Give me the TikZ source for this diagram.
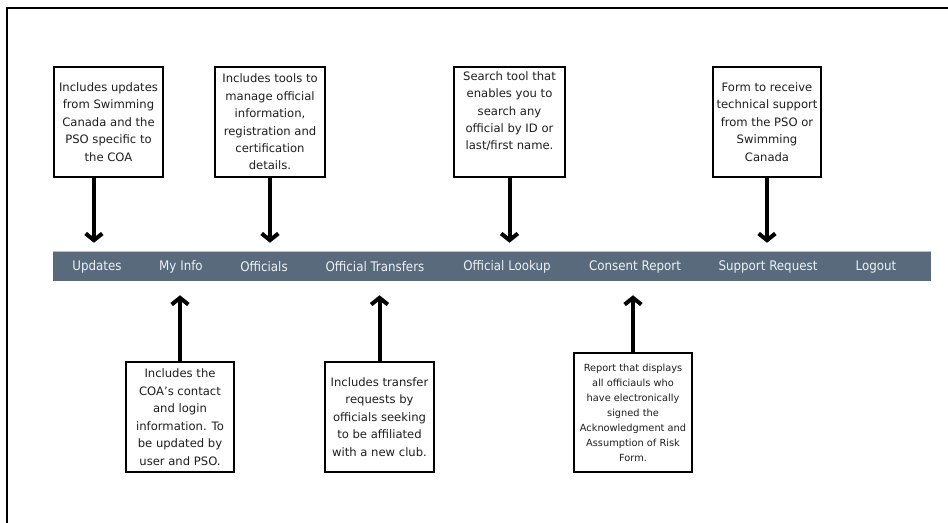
\documentclass[tikz,border=0pt]{standalone}
\usepackage{fontspec}
\setmainfont{DejaVu Sans}
\newfontfamily\barfont{DejaVu Sans Condensed}
\usetikzlibrary{arrows.meta}
\definecolor{barcol}{RGB}{90,106,125}
\definecolor{bartext}{RGB}{236,241,247}
\definecolor{boxtext}{RGB}{30,30,30}
\tikzset{
  infobox/.style={draw=black, line width=1.5pt, fill=white, align=center, inner sep=0pt,
    text=boxtext, font=\fontsize{8.7}{13.1}\selectfont, minimum height=82.5pt},
  smallbox/.style={infobox, font=\fontsize{7.35}{11.25}\selectfont},
  barlabel/.style={text=bartext, font=\barfont\fontsize{9.9}{12}\selectfont, inner sep=0pt},
  arr/.style={line width=3pt, -{Straight Barb[length=5pt,width=12.5pt]}},
}
\begin{document}
\begin{tikzpicture}[x=0.75pt,y=-0.75pt]
\useasboundingbox (0,0) rectangle (948,522);
\fill[white] (0,0) rectangle (948,522);
% frame
\draw[line width=1.5pt] (7,540) |- (970,8);
% bar
\node[fill=barcol, minimum width=658.5pt, minimum height=21.75pt, inner sep=0pt] (bar) at (492,266.5) {};
\draw[black!25, line width=0.6pt] (bar.north west) -- (bar.north east);
\node[barlabel] (lupd) at (97,267) {Updates};
\node[barlabel] (linfo) at (181,267) {My Info};
\node[barlabel] (loff) at (264,267) {Officials};
\node[barlabel] (ltrans) at (375,267) {Official Transfers};
\node[barlabel] (llook) at (507,267) {Official Lookup};
\node[barlabel] (lcons) at (635,267) {Consent Report};
\node[barlabel] (lsupp) at (768,267) {Support Request};
\node[barlabel] (llog) at (876,267) {Logout};
% top boxes
\node[infobox, minimum width=81.75pt] (ub) at (108.5,122) {Includes updates\\from Swimming\\Canada and the\\PSO specific to\\the COA};
\node[infobox, minimum width=82.5pt] (ob) at (270,122) {Includes tools to\\manage official\\information,\\registration and\\certification\\details.};
\node[infobox, minimum width=83.25pt] (lb) at (509.5,122) {Search tool that\\enables you to\\search any\\official by ID or\\last/first name.\\\strut};
\node[infobox, minimum width=81pt] (sb) at (767,122) {Form to receive\\technical support\\from the PSO or\\Swimming\\Canada};
% bottom boxes
\node[infobox, minimum width=81pt] (mb) at (180,417) {Includes the\\COA\symbol{39}s contact\\and login\\information. To\\be updated by\\user and PSO.};
\node[infobox, minimum width=81.75pt] (tb) at (379.5,417) {Includes transfer\\requests by\\officials seeking\\to be affiliated\\with a new club.};
\node[smallbox, minimum width=88.5pt, minimum height=89.25pt] (cb) at (633,412.5) {Report that displays\\all officiauls who\\have electronically\\signed the\\Acknowledgment and\\Assumption of Risk\\Form.};
% arrows down
\coordinate (ua) at ([xshift=-10.9pt]ub.south);
\draw[arr, shorten >=6.75pt] (ua) -- (ua |- bar.north);
\draw[arr, shorten >=6.75pt] (ob.south) -- (ob.south |- bar.north);
\draw[arr, shorten >=6.75pt] (lb.south) -- (lb.south |- bar.north);
\draw[arr, shorten >=6.75pt] (sb.south) -- (sb.south |- bar.north);
% arrows up
\draw[arr, shorten >=10.5pt] (mb.north) -- (mb.north |- bar.south);
\draw[arr, shorten >=10.5pt] (tb.north) -- (tb.north |- bar.south);
\draw[arr, shorten >=10.5pt] (cb.north) -- (cb.north |- bar.south);
\end{tikzpicture}
\end{document}
